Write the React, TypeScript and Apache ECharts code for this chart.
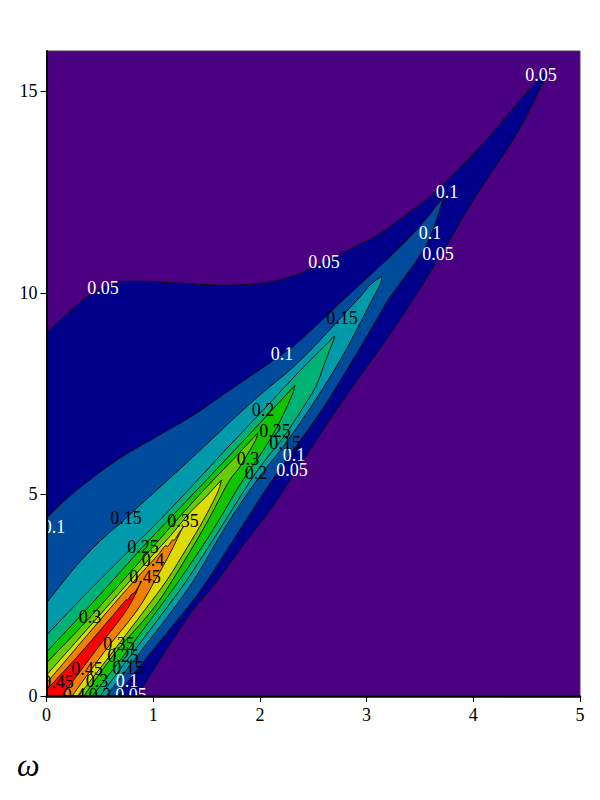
import React, { useEffect, useRef } from "react";
import * as echarts from "echarts";

type P = [number, number];

const yTicks = [0, 5, 10, 15];
const levels = [0.05, 0.1, 0.15, 0.2, 0.25, 0.3, 0.35, 0.4, 0.45];
const bandColors = ["#00008b", "#004b9b", "#009aaa", "#00b274", "#10c400", "#66cc00", "#dcdc00", "#f08000", "#ff0000"];
const backgroundColor = "#4b0082";

const upper05: P[] = [[0,9.0],[0.155,9.4],[0.38,9.9],[0.62,10.24],[0.9,10.29],[1.25,10.24],[1.72,10.19],[2.09,10.27],[2.38,10.49],[2.6,10.76],[2.84,11.08],[3.13,11.48],[3.31,11.83],[3.5,12.2],[3.69,12.62],[4.09,13.71],[4.41,14.7],[4.73,15.67]];
const lower05: P[] = [[4.73,15.67],[4.65,15.2],[4.41,13.96],[4.0,12.3],[3.75,11.18],[3.31,9.32],[2.75,7.22],[2.3,5.41],[2.09,4.59],[1.81,3.62],[1.58,2.78],[1.36,2.08],[1.11,1.09],[0.85,0]];
const upper10: P[] = [[0,4.41],[0.25,5.03],[0.66,5.85],[1.09,6.52],[1.41,7.02],[1.72,7.59],[2.21,8.48],[2.38,8.83],[2.78,9.82],[3.38,11.31],[3.72,12.37]];
const lower10: P[] = [[3.72,12.37],[3.62,11.55],[3.5,10.93],[3.2,9.82],[3.09,9.32],[2.64,7.34],[2.28,5.98],[2.02,4.98],[1.51,2.88],[1.3,2.13],[0.98,1.09],[0.75,0.32],[0.67,0]];
const upper15: P[] = [[0,2.31],[0.27,3.2],[0.5,3.84],[0.745,4.41],[0.9,4.79],[1.34,5.85],[1.91,7.26],[2.38,8.33],[2.91,9.82],[3.03,10.19],[3.14,10.41]];
const lower15: P[] = [[3.14,10.41],[3.13,10.24],[3.05,9.82],[2.78,8.46],[2.52,7.34],[2.24,6.27],[1.95,5.28],[1.67,4.17],[1.41,3.0],[1.18,2.13],[0.76,0.69],[0.56,0]];
const upper20: P[] = [[0,1.51],[0.27,2.26],[0.5,2.88],[0.78,3.62],[1.06,4.36],[1.39,5.28],[1.7,6.17],[2.03,7.09],[2.38,8.08],[2.7,8.93]];
const lower20: P[] = [[2.7,8.93],[2.69,8.83],[2.61,8.28],[2.53,7.71],[2.42,7.22],[2.22,6.42],[1.96,5.53],[1.62,4.12],[1.33,2.93],[1.11,2.13],[0.5,0]];
const upper25: P[] = [[0,1.09],[0.455,2.38],[0.9,3.69],[1.32,4.86],[1.65,5.78],[1.94,6.6],[2.14,7.17],[2.33,7.71]];
const lower25: P[] = [[2.33,7.71],[2.29,7.39],[2.16,6.67],[2.02,6.05],[1.81,5.23],[1.56,4.12],[1.26,2.93],[1.04,2.13],[0.72,0.99],[0.43,0]];
const upper30: P[] = [[0,0.82],[0.41,1.96],[0.97,3.62],[1.44,5.01],[1.77,5.93],[1.98,6.52]];
const lower30: P[] = [[1.98,6.52],[1.95,6.3],[1.81,5.68],[1.7,5.28],[1.49,4.24],[1.21,3.0],[0.99,2.13],[0.65,1.09],[0.35,0]];
const upper35: P[] = [[0,0.52],[0.55,2.16],[0.97,3.42],[1.16,3.97],[1.34,4.54],[1.49,4.93],[1.64,5.36]];
const lower35: P[] = [[1.64,5.36],[1.6,5.03],[1.47,4.36],[1.32,3.69],[1.13,2.88],[0.92,2.13],[0.62,1.09],[0.3,0]];
const upper40: P[] = [[0,0.32],[0.64,2.31],[1.0,3.37],[1.06,3.55],[1.11,3.72],[1.14,3.72],[1.18,3.87],[1.2,3.87],[1.24,4.04],[1.28,4.19]];
const lower40: P[] = [[1.28,4.19],[1.25,4.04],[1.16,3.55],[1.02,2.88],[0.85,2.13],[0.54,1.09],[0.24,0]];
const upper45: P[] = [[0,0.15],[0.31,1.04],[0.69,2.21],[0.74,2.38],[0.76,2.38],[0.8,2.53],[0.83,2.58],[0.88,2.8]];
const lower45: P[] = [[0.88,2.8],[0.75,2.13],[0.45,1.09],[0.145,0]];
const uppers = [upper05, upper10, upper15, upper20, upper25, upper30, upper35, upper40, upper45];
const lowers = [lower05, lower10, lower15, lower20, lower25, lower30, lower35, lower40, lower45];
const origin: P = [0, 0];

const whiteLabels: [string, number, number][] = [
  ["0.05",4.634,15.4],["0.1",3.754,12.5],["0.1",3.594,11.48],["0.05",3.669,10.96],["0.05",2.601,10.76],["0.05",0.53,10.12],
  ["0.1",2.207,8.48],["0.1",2.32,5.98],["0.05",2.301,5.6],["0.1",0.07,4.19],["0.1",0.754,0.37],["0.05",0.792,0.02],
];
const blackLabels: [string, number, number][] = [
  ["0.15",2.77,9.37],["0.2",2.029,7.09],["0.25",2.142,6.57],["0.15",2.235,6.27],["0.3",1.888,5.88],["0.2",1.963,5.53],
  ["0.35",1.279,4.34],["0.15",0.745,4.41],["0.25",0.904,3.69],["0.4",0.998,3.37],["0.45",0.923,2.95],["0.3",0.408,1.96],
  ["0.35",0.679,1.29],["0.25",0.717,0.99],["0.15",0.764,0.69],["0.45",0.38,0.67],["0.45",0.108,0.35],["0.3",0.473,0.37],
  ["0.4",0.258,0.02],["0.2",0.501,0.02],
];
const xName = "\u03c9";

const serif = "'Liberation Serif', 'Times New Roman', serif";

// Catmull-Rom curve through screen points, as SVG path commands (without the initial M).
function curve(pts: number[][]) {
  let d = "";
  for (let i = 0; i < pts.length - 1; i++) {
    const p0 = pts[Math.max(i - 1, 0)], p1 = pts[i], p2 = pts[i + 1], p3 = pts[Math.min(i + 2, pts.length - 1)];
    const c1x = p1[0] + (p2[0] - p0[0]) / 6, c1y = p1[1] + (p2[1] - p0[1]) / 6;
    const c2x = p2[0] - (p3[0] - p1[0]) / 6, c2y = p2[1] - (p3[1] - p1[1]) / 6;
    d += `C${c1x.toFixed(2)} ${c1y.toFixed(2)} ${c2x.toFixed(2)} ${c2y.toFixed(2)} ${p2[0].toFixed(2)} ${p2[1].toFixed(2)}`;
  }
  return d;
}

export default function App() {
  const ref = useRef<HTMLDivElement>(null);
  useEffect(() => {
    document.body.style.margin = "0";
    const chart = echarts.init(ref.current!, undefined, { renderer: "svg" });
    const axisCommon = {
      z: 10,
      axisLine: { show: true, onZero: false, lineStyle: { color: "#000", width: 2 } },
      axisTick: { show: true, length: 6, lineStyle: { color: "#000", width: 1 } },
      splitLine: { show: false },
    };
    chart.setOption({
      animation: false,
      backgroundColor: "#fff",
      grid: { left: 46.5, right: 20, top: 51, bottom: 104, show: true, backgroundColor, borderColor: "#444", borderWidth: 1 },
      xAxis: {
        ...axisCommon, type: "value", min: 0, max: 5, interval: 1,
        axisLine: { show: true, onZero: false, lineStyle: { color: "#000", width: 2.5 } },
        axisLabel: { color: "#000", fontFamily: serif, fontSize: 18, margin: 10 },
      },
      yAxis: {
        ...axisCommon, type: "value", min: 0, max: 16,
        axisTick: { ...axisCommon.axisTick, customValues: yTicks },
        axisLabel: { color: "#000", fontFamily: serif, fontSize: 18, margin: 9, customValues: yTicks },
      },
      graphic: [{
        type: "text", left: 17, top: 749,
        style: { text: xName, fontFamily: serif, fontStyle: "italic", fontSize: 32, fill: "#000" },
      }],
      series: [
        {
          type: "custom", coordinateSystem: "cartesian2d", clip: true, silent: true,
          data: levels.map((lv, i) => [0, lv, i]),
          encode: { x: 0, y: 1 },
          renderItem: (_p: any, api: any) => {
            const i = api.value(2);
            const up = uppers[i].map((p) => api.coord(p));
            const lo = lowers[i].map((p) => api.coord(p));
            const c = api.coord(origin);
            const d = `M${up[0][0]} ${up[0][1]}` + curve(up) + curve(lo) + `L${c[0]} ${c[1]}Z`;
            return {
              type: "path",
              shape: { pathData: d },
              style: { fill: bandColors[i], stroke: "#111", lineWidth: 1 },
            };
          },
        },
        ...[[whiteLabels, "#fff"], [blackLabels, "#000"]].map(([list, fill]: any) => ({
          type: "custom", coordinateSystem: "cartesian2d", clip: true, silent: true, z: 5,
          data: list.map((l: any) => [l[1], l[2], l[0]]),
          encode: { x: 0, y: 1 },
          renderItem: (p: any, api: any) => {
            const c = api.coord([api.value(0), api.value(1)]);
            return {
              type: "text",
              style: { x: c[0], y: c[1], text: list[p.dataIndex][0], fill, fontFamily: serif, fontSize: 18, align: "center", verticalAlign: "middle" },
            };
          },
        })),
      ],
    });
    return () => chart.dispose();
  }, []);
  return <div ref={ref} style={{ width: 600, height: 800 }} />;
}
